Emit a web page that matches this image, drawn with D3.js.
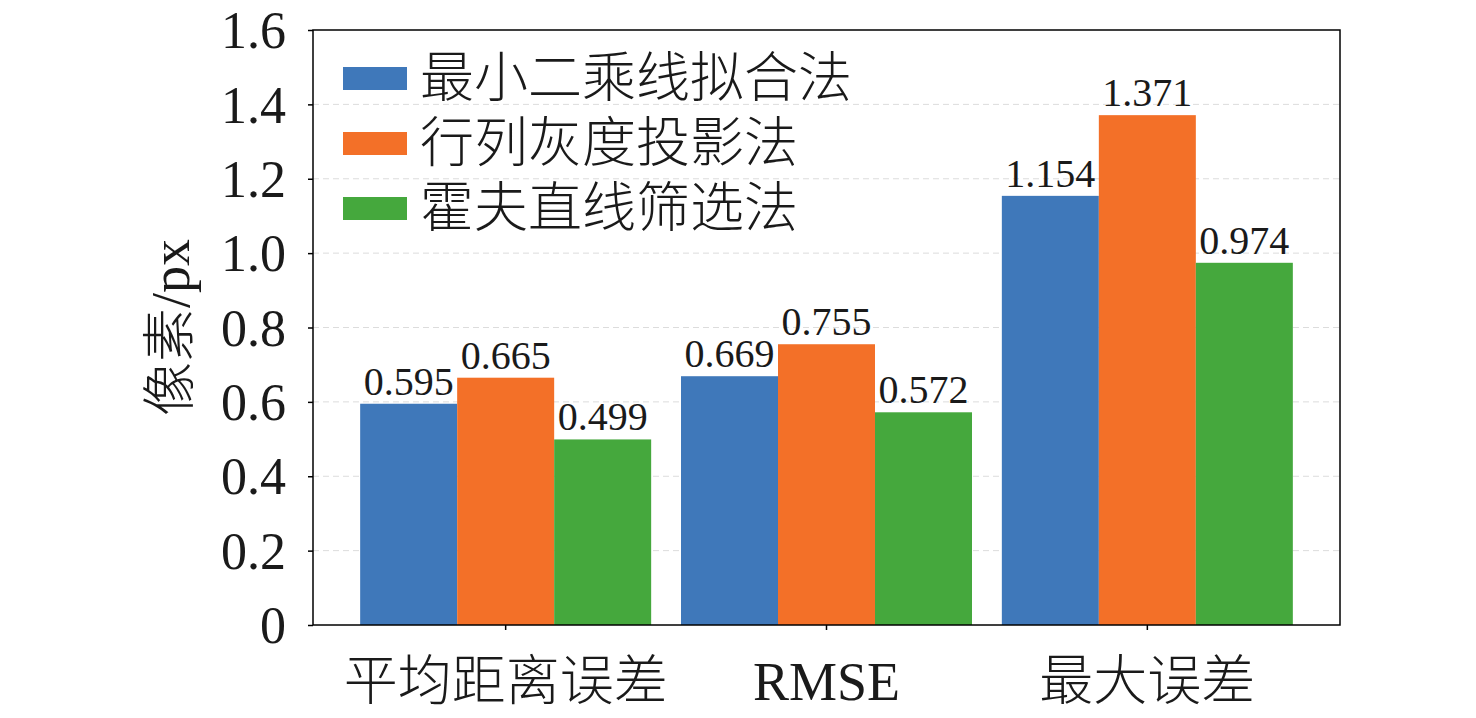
<!DOCTYPE html>
<html>
<head>
<meta charset="utf-8">
<script src="https://cdn.jsdelivr.net/npm/d3@7"></script>
<style>
  body { margin: 0; background: #fff; }
  .serif { font-family: "Liberation Serif", "Times New Roman", serif; }
  .cjk { font-family: "Noto Sans CJK SC", sans-serif; font-weight: 300; }
</style>
</head>
<body>
<div id="chart-area"></div>
<script>
// data
var categories = ["平均距离误差", "RMSE", "最大误差"];
var seriesNames = ["最小二乘线拟合法", "行列灰度投影法", "霍夫直线筛选法"];
var lsqValues = [0.595, 0.669, 1.154];
var projValues = [0.665, 0.755, 1.371];
var houghValues = [0.499, 0.572, 0.974];
var yTicks = [0, 0.2, 0.4, 0.6, 0.8, 1.0, 1.2, 1.4, 1.6];
var colors = ["#3f78ba", "#f37028", "#45a83d"];

var seriesValues = [lsqValues, projValues, houghValues];

var W = 1476, H = 718;
var plotLeft = 313, plotRight = 1340, plotTop = 30, plotBottom = 625;

var svg = d3.select("#chart-area").append("svg")
    .attr("width", W)
    .attr("height", H);

var x = d3.scaleBand()
    .domain(categories)
    .range([plotLeft, plotRight])
    .paddingInner(0.093)
    .paddingOuter(0.147);

var xSub = d3.scaleBand()
    .domain(seriesNames)
    .range([0, x.bandwidth()]);

var y = d3.scaleLinear()
    .domain([0, 1.6])
    .range([plotBottom, plotTop]);

// dashed grid lines
svg.append("g")
    .selectAll("line")
    .data(yTicks.filter(function(d) { return d > 0 && d < 1.6; }))
    .enter()
    .append("line")
    .attr("x1", plotLeft)
    .attr("x2", plotRight)
    .attr("y1", function(d) { return y(d); })
    .attr("y2", function(d) { return y(d); })
    .attr("stroke", "#dcdcdc")
    .attr("stroke-width", 1)
    .attr("stroke-dasharray", "6,4");

// bars, one group per category
var groups = svg.selectAll("g.group")
    .data(categories)
    .enter()
    .append("g")
    .attr("class", "group")
    .attr("transform", function(d) { return "translate(" + x(d) + ",0)"; });

groups.selectAll("rect")
    .data(function(d, ci) {
        return seriesNames.map(function(s, si) {
            return {series: s, si: si, value: seriesValues[si][ci]};
        });
    })
    .enter()
    .append("rect")
    .attr("x", function(d) { return xSub(d.series); })
    .attr("width", xSub.bandwidth())
    .attr("y", function(d) { return y(d.value); })
    .attr("height", function(d) { return plotBottom - y(d.value); })
    .attr("fill", function(d) { return colors[d.si]; });

// value labels
groups.selectAll("text")
    .data(function(d, ci) {
        return seriesNames.map(function(s, si) {
            return {series: s, value: seriesValues[si][ci]};
        });
    })
    .enter()
    .append("text")
    .attr("class", "serif")
    .attr("x", function(d) { return xSub(d.series) + xSub.bandwidth() / 2; })
    .attr("y", function(d) { return y(d.value) - 9; })
    .attr("text-anchor", "middle")
    .attr("font-size", 40)
    .attr("fill", "#1a1a1a")
    .text(function(d) { return d3.format(".3f")(d.value); });

// y axis
var yAxis = svg.append("g")
    .attr("transform", "translate(" + plotLeft + ",0)")
    .call(d3.axisLeft(y)
        .tickValues(yTicks)
        .tickSize(5)
        .tickPadding(22)
        .tickFormat(function(d) { return d === 0 ? "0" : d3.format(".1f")(d); }));
yAxis.select(".domain").remove();
yAxis.selectAll("line").attr("stroke", "#000").attr("stroke-width", 1.5);
yAxis.selectAll("text")
    .attr("class", "serif")
    .attr("font-size", 52)
    .attr("fill", "#1a1a1a")
    .attr("dy", "0.34em");

// x axis
var xAxis = svg.append("g")
    .attr("transform", "translate(0," + plotBottom + ")")
    .call(d3.axisBottom(x).tickSize(5).tickFormat(""));
xAxis.select(".domain").remove();
xAxis.selectAll("line").attr("stroke", "#000").attr("stroke-width", 1.5);

svg.selectAll("text.xlabel")
    .data(categories)
    .enter()
    .append("text")
    .attr("class", function(d) { return d === "RMSE" ? "xlabel serif" : "xlabel cjk"; })
    .attr("x", function(d) { return x(d) + x.bandwidth() / 2; })
    .attr("y", 700)
    .attr("text-anchor", "middle")
    .attr("font-size", 54)
    .attr("fill", "#1a1a1a")
    .text(function(d) { return d; });

// frame
svg.append("rect")
    .attr("x", plotLeft)
    .attr("y", plotTop)
    .attr("width", plotRight - plotLeft)
    .attr("height", plotBottom - plotTop)
    .attr("fill", "none")
    .attr("stroke", "#000")
    .attr("stroke-width", 1.5);

// y axis title
var yTitle = svg.append("text")
    .attr("transform", "translate(189," + ((plotTop + plotBottom) / 2) + ") rotate(-90)")
    .attr("text-anchor", "middle")
    .attr("font-size", 54)
    .attr("fill", "#1a1a1a");
yTitle.append("tspan").attr("class", "cjk").text("像素");
yTitle.append("tspan").attr("class", "serif").text("/px");

// legend
var legend = svg.append("g")
    .selectAll("g")
    .data(seriesNames)
    .enter()
    .append("g")
    .attr("transform", function(d, i) { return "translate(343," + (78 + i * 65) + ")"; });

legend.append("rect")
    .attr("x", 0)
    .attr("y", -11)
    .attr("width", 64)
    .attr("height", 23)
    .attr("fill", function(d, i) { return colors[i]; });

legend.append("text")
    .attr("class", "cjk")
    .attr("x", 77)
    .attr("y", 0)
    .attr("dy", "0.36em")
    .attr("font-size", 54)
    .attr("fill", "#1a1a1a")
    .text(function(d) { return d; });
</script>
</body>
</html>
